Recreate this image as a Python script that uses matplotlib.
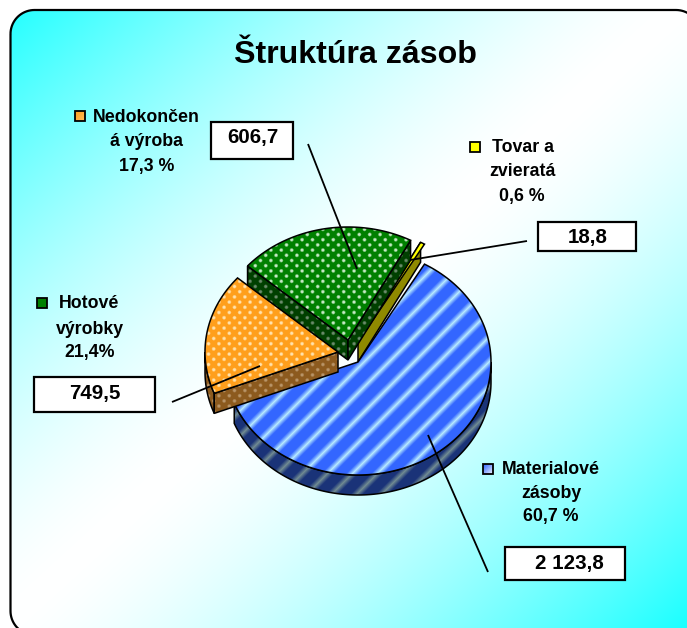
import numpy as np
import matplotlib
matplotlib.use('Agg')
import matplotlib.pyplot as plt
from matplotlib.patches import Polygon, Rectangle

plt.rcParams['font.family'] = ['Liberation Sans', 'DejaVu Sans']

# data, in clockwise slice order
categories = ['Materialové\nzásoby', 'Nedokončen\ná výroba', 'Hotové\nvýrobky', 'Tovar a\nzvieratá']
values = [2123.8, 606.7, 749.5, 18.8]
value_labels = ['2 123,8', '606,7', '749,5', '18,8']
pct_labels = ['60,7 %', '17,3 %', '21,4%', '0,6 %']

W, H = 687, 628
fig = plt.figure(figsize=(W / 100, H / 100), dpi=100)
ax = fig.add_axes([0, 0, 1, 1])
ax.axis('off')

yy, xx = np.mgrid[0:H, 0:W]
extent = (0, W, H, 0)


def mix(a, b, t):
    a = np.array(matplotlib.colors.to_rgb(a))
    b = np.array(matplotlib.colors.to_rgb(b))
    return a + (b - a) * t[..., None]


def stripes(c1, c2):
    u = (xx + yy) / 25.0
    t = np.clip(1.7 * (np.abs((u % 1) - 0.5) * 2) - 0.85, 0, 1)
    return mix(c1, c2, t)


def dots(c1, c2, step=10.4):
    a = (xx / step) % 1
    b = (yy / step) % 1
    d1 = np.hypot(a - 0.5, b - 0.5)
    a2 = (a + 0.5) % 1
    b2 = (b + 0.5) % 1
    d2 = np.hypot(a2 - 0.5, b2 - 0.5)
    t = np.clip(1.6 - np.minimum(d1, d2) * 7.0, 0, 1)
    return mix(c1, c2, t)


def round_frame(x0, y0, x1, y1, r):
    pts = []
    for mx, my, a in [(x0 + r, y0 + r, 180), (x1 - r, y0 + r, 270), (x1 - r, y1 - r, 0), (x0 + r, y1 - r, 90)]:
        th = np.radians(np.linspace(a, a + 90, 20))
        pts.append(np.column_stack((mx + r * np.cos(th), my + r * np.sin(th))))
    return np.vstack(pts)


# background
t = np.abs((xx / W + yy / H) - 1.0)
bg = mix('#ffffff', '#1affff', np.clip(t, 0, 1) ** 1.5)
frame = Polygon(round_frame(10.5, 10, 700, 635, 24), closed=True, fc='none', ec='black', lw=1.6, zorder=3)
ax.add_patch(frame)
im = ax.imshow(bg, extent=extent, aspect='auto', zorder=1, interpolation='bilinear')
im.set_clip_path(frame)

# pie geometry
cx, cy = 358, 362
rx, ry = 133, 113
depth = 20
offsets = [(0, 0), (-20, -10), (-10, -22), (0, -20)]
start = 30.0
fracs = np.array(values) / np.sum(values)
ext = fracs * 360.0
starts = start + np.concatenate(([0], np.cumsum(ext)[:-1]))


def arc(a0, a1, ox, oy, dz=0):
    th = np.radians(np.linspace(a0, a1, 150))
    return np.column_stack((cx + ox + rx * np.sin(th), cy + oy + dz - ry * np.cos(th)))


def textured(pts, img, z):
    p = Polygon(pts, closed=True, fc='none', ec='black', lw=1.1, zorder=z + 0.1)
    ax.add_patch(p)
    i = ax.imshow(img, extent=extent, aspect='auto', zorder=z, interpolation='bilinear')
    i.set_clip_path(p)


faces = [
    stripes('#3366ff', '#ccffff'),
    dots('#ff9f1c', '#ffe2ad'),
    dots('#008000', '#c4e8c4'),
    np.ones((H, W, 3)) * np.array([1, 1, 0]),
]
sides = [
    stripes('#1a3378', '#7f9a96'),
    dots('#8c5a1e', '#b89468'),
    dots('#004000', '#6a8a6a'),
    np.ones((H, W, 3)) * np.array(matplotlib.colors.to_rgb('#8f8a00')),
]

z = 4
for i in [3, 0, 2, 1]:
    ox, oy = offsets[i]
    a0, a1 = starts[i], starts[i] + ext[i]
    tip = np.array([cx + ox, cy + oy])
    # outer rim, only the part that faces the viewer
    r0, r1 = max(a0, 90), min(a1, 270)
    if r1 > r0:
        top = arc(r0, r1, ox, oy)
        low = arc(r0, r1, ox, oy, depth)
        textured(np.vstack((top, low[::-1])), sides[i], z)
        z += 1
    # cut faces
    e0 = arc(a0, a0, ox, oy)[0]
    e1 = arc(a1, a1, ox, oy)[0]
    down = np.array([0, depth])
    if i in (1, 2, 3):
        textured(np.array([tip, e0, e0 + down, tip + down]), sides[i], z)
        z += 1
    if i == 2:
        textured(np.array([tip, e1, e1 + down, tip + down]), sides[i], z)
        z += 1
    textured(np.vstack(([tip], arc(a0, a1, ox, oy))), faces[i], z)
    z += 1

# leader lines
line_x = [(428, 488), (357, 308), (260, 172), (410, 527)]
line_y = [(435, 572), (269, 144), (366, 402), (260, 241)]
for lx, ly in zip(line_x, line_y):
    ax.plot(lx, ly, color='black', lw=1.3, zorder=40, solid_capstyle='butt')

# value boxes
box_xy = [(505, 547, 120, 33), (211, 122, 82, 37), (34, 377, 121, 35), (538, 222, 98, 29)]
box_txt = [(569, 563), (253, 138), (95, 394), (588, 237)]
for (bx, by, bw, bh), (tx, ty), lab in zip(box_xy, box_txt, value_labels):
    ax.add_patch(Rectangle((bx, by), bw, bh, fc='white', ec='black', lw=1.6, zorder=41))
    ax.text(tx, ty, lab, ha='center', va='center', fontsize=14.8, fontweight='bold', zorder=42)

# legend style labels
key_xy = [(488, 469), (80, 116), (42, 303), (475, 147)]
key_c1 = ['#3366ff', '#ff9f1c', '#008000', '#ffff00']
key_c2 = ['#ffffff', '#ffc060', '#008000', '#ffff00']
line_pos = [
    [(551, 469), (551, 493), (551, 517)],
    [(146.5, 117), (147, 142), (147, 166)],
    [(89, 304), (89.5, 330), (90, 353)],
    [(522.5, 148), (522, 171), (522, 196)],
]
for cat, pct, (kx, ky), c1, c2, pos in zip(categories, pct_labels, key_xy, key_c1, key_c2, line_pos):
    key = Rectangle((kx - 5, ky - 5), 10, 10, fc='none', ec='black', lw=1.3, zorder=43)
    ax.add_patch(key)
    g = mix(c1, c2, np.clip(((xx - kx) + (yy - ky)) / 20.0 + 0.5, 0, 1))
    ki = ax.imshow(g, extent=extent, aspect='auto', zorder=42, interpolation='bilinear')
    ki.set_clip_path(key)
    for s, (tx, ty) in zip(cat.split('\n') + [pct], pos):
        ax.text(tx, ty, s, ha='center', va='center', fontsize=12.8, fontweight='bold', zorder=42)

ax.text(355, 55, 'Štruktúra zásob', ha='center', va='center', fontsize=23.1, fontweight='bold', zorder=42)

ax.set_xlim(0, W)
ax.set_ylim(H, 0)
fig.savefig('out.png', dpi=100)
